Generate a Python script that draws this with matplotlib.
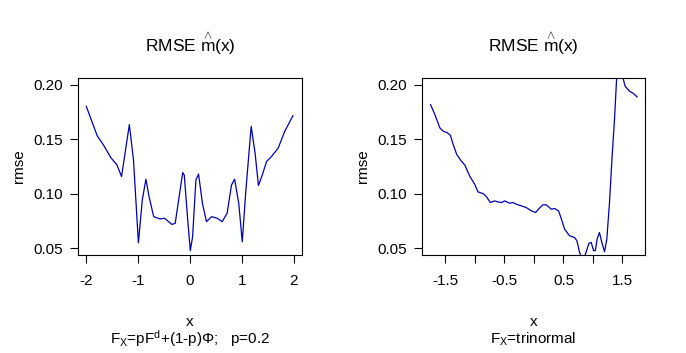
import matplotlib
matplotlib.use("Agg")
import matplotlib.pyplot as plt

plt.rcParams['font.family'] = ['Liberation Sans', 'DejaVu Sans']
plt.rcParams['mathtext.fontset'] = 'custom'
plt.rcParams['mathtext.rm'] = 'Liberation Sans'
plt.rcParams['mathtext.it'] = 'Liberation Sans'
plt.rcParams['mathtext.bf'] = 'Liberation Sans'

# ---- data: left panel (F_X = pF^d + (1-p)Phi, p=0.2)
x1 = [-2.0, -1.79, -1.66, -1.53, -1.41, -1.32, -1.17, -1.09, -0.995, -0.92, -0.85,
      -0.79, -0.70, -0.58, -0.49, -0.35, -0.285, -0.20, -0.14, -0.11, -0.044, 0.006,
      0.05, 0.114, 0.165, 0.24, 0.317, 0.418, 0.526, 0.62, 0.716, 0.80, 0.86, 0.94,
      1.008, 1.078, 1.18, 1.255, 1.32, 1.395, 1.477, 1.572, 1.70, 1.826, 1.985]
y1 = [0.1800, 0.1532, 0.1440, 0.1333, 0.1265, 0.1158, 0.1633, 0.1310, 0.0552, 0.0944,
      0.1134, 0.0975, 0.0791, 0.0770, 0.0776, 0.0720, 0.0730, 0.1005, 0.1195, 0.1170,
      0.0760, 0.0479, 0.0607, 0.1128, 0.1180, 0.0913, 0.0745, 0.0791, 0.0776, 0.0745,
      0.0822, 0.1080, 0.1134, 0.0913, 0.0561, 0.1036, 0.1617, 0.1373, 0.1076, 0.1174,
      0.1296, 0.1342, 0.1418, 0.1571, 0.1715]

# ---- data: right panel (F_X = trinormal)
x2 = [-1.754, -1.68, -1.596, -1.54, -1.47, -1.416, -1.37, -1.31, -1.24, -1.17, -1.09,
      -1.004, -0.948, -0.863, -0.807, -0.74, -0.666, -0.61, -0.553, -0.496, -0.412,
      -0.355, -0.30, -0.214, -0.13, -0.045, 0.028, 0.085, 0.152, 0.209, 0.293, 0.35,
      0.417, 0.462, 0.519, 0.603, 0.688, 0.728, 0.773, 0.818, 0.874, 0.93, 0.97, 1.01,
      1.04, 1.07, 1.11, 1.15, 1.196, 1.235, 1.28, 1.325, 1.365, 1.40, 1.44, 1.48,
      1.545, 1.62, 1.686, 1.748]
y2 = [0.1817, 0.1726, 0.1604, 0.1574, 0.1559, 0.1535, 0.1452, 0.1361, 0.1306, 0.1261,
      0.1163, 0.1087, 0.1017, 0.1002, 0.0975, 0.0920, 0.0935, 0.0926, 0.0920, 0.0935,
      0.0914, 0.0920, 0.0905, 0.0890, 0.0874, 0.0844, 0.0829, 0.0865, 0.0899, 0.0899,
      0.0859, 0.0865, 0.0844, 0.0774, 0.0677, 0.0616, 0.0600, 0.0570, 0.0464, 0.0400,
      0.0448, 0.0546, 0.0555, 0.0480, 0.0480, 0.0585, 0.0646, 0.0555, 0.0470, 0.0585,
      0.0920, 0.1346, 0.1680, 0.2046, 0.2140, 0.2120, 0.1985, 0.1939, 0.1918, 0.1887]

yticks = [0.05, 0.10, 0.15, 0.20]
ytick_labels = ['0.05', '0.10', '0.15', '0.20']
xticks1 = [-2, -1, 0, 1, 2]
xtick_labels1 = ['-2', '-1', '0', '1', '2']
xticks2 = [-1.5, -1.0, -0.5, 0.0, 0.5, 1.0, 1.5]
xtick_labels2 = ['-1.5', '', '-0.5', '', '0.5', '', '1.5']

title = r'RMSE $\overset{\wedge}{m}$(x)'
sub1 = r'F$_{X}$=pF$^{d}$+(1-p)$\Phi$;   p=0.2'
sub2 = r'F$_{X}$=trinormal'

W, H = 686, 353
fig = plt.figure(figsize=(W / 100, H / 100), dpi=100)

line_color = '#0000B4'
FS = 11

def make_panel(rect, x, y, xlim, xticks, xlabels, sub):
    ax = fig.add_axes(rect)
    ax.plot(x, y, color=line_color, lw=0.9)
    ax.set_xlim(*xlim)
    ax.set_ylim(0.044, 0.206)
    ax.set_xticks(xticks)
    ax.set_xticklabels(xlabels)
    ax.set_yticks(yticks)
    ax.set_yticklabels(ytick_labels)
    ax.tick_params(axis='both', direction='out', length=6, width=0.8,
                   labelsize=FS, colors='black')
    ax.tick_params(axis='x', pad=8)
    ax.tick_params(axis='y', pad=5)
    for s in ax.spines.values():
        s.set_linewidth(0.8)
    ax.set_ylabel('rmse', fontsize=FS, labelpad=5)
    cx = rect[0] + rect[2] / 2
    fig.text(cx, 1 - 44 / H, title, ha='center', va='center', fontsize=12.5)
    fig.text(cx, 1 - 322 / H, 'x', ha='center', va='center', fontsize=FS)
    fig.text(cx, 1 - 339 / H, sub, ha='center', va='center', fontsize=FS)
    return ax

make_panel([78 / W, 1 - 255 / H, (302 - 78) / W, (255 - 78) / H],
           x1, y1, (-2.16, 2.16), xticks1, xtick_labels1, sub1)
make_panel([422 / W, 1 - 255 / H, (645 - 422) / W, (255 - 78) / H],
           x2, y2, (-1.898, 1.882), xticks2, xtick_labels2, sub2)

fig.savefig('out.png', dpi=100, facecolor='white')
